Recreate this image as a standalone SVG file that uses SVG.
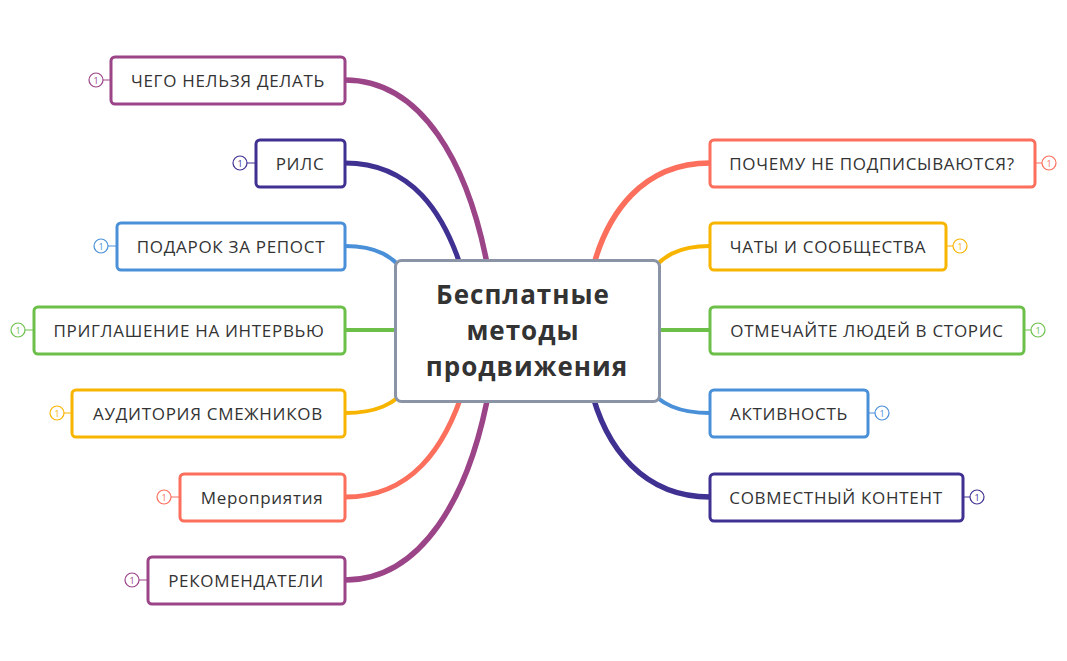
<svg xmlns="http://www.w3.org/2000/svg" width="1067" height="661" viewBox="0 0 1067 661">
<style>
.n{fill:#fff;stroke-width:3}
.t{font-family:"Open Sans",sans-serif;font-size:17px;letter-spacing:0.7px;fill:#333;text-anchor:middle;dominant-baseline:central}
.b{fill:#fff;stroke-width:1.2}
.bt{font-family:"Open Sans",sans-serif;font-size:9px;text-anchor:middle;dominant-baseline:central}
.c{fill:none;stroke-linecap:round}
</style>
<rect width="1067" height="661" fill="#fff"/>
<g id="connectors">
<path class="c" stroke="#9b4488" stroke-width="5.5" d="M345,80 C420,80 470,160 490,280"/>
<path class="c" stroke="#3f3192" stroke-width="5" d="M345,163 C410,163 445,210 465,280"/>
<path class="c" stroke="#4a90d9" stroke-width="4" d="M345,246 C375,246 395,255 410,280"/>
<path class="c" stroke="#6cc04a" stroke-width="4" d="M345,330 L410,330"/>
<path class="c" stroke="#f8b500" stroke-width="4" d="M345,413 C375,413 395,405 410,385"/>
<path class="c" stroke="#fb6f5c" stroke-width="5" d="M345,497 C410,497 445,450 465,385"/>
<path class="c" stroke="#9b4488" stroke-width="5.5" d="M345,580 C420,580 470,500 490,385"/>
<path class="c" stroke="#fb6f5c" stroke-width="5.5" d="M710,163 C645,163 605,210 590,280"/>
<path class="c" stroke="#f8b500" stroke-width="4" d="M710,246 C680,246 660,255 645,280"/>
<path class="c" stroke="#6cc04a" stroke-width="4" d="M710,330 L645,330"/>
<path class="c" stroke="#4a90d9" stroke-width="4" d="M710,413 C680,413 660,405 645,385"/>
<path class="c" stroke="#3f3192" stroke-width="5.5" d="M710,497 C645,497 605,450 590,385"/>
</g>
<g id="center">
<rect x="395.5" y="260.5" width="264" height="141" rx="6" fill="#fff" stroke="#8a94a6" stroke-width="3"/>
<text font-family="Open Sans,sans-serif" font-size="26" font-weight="bold" letter-spacing="1" fill="#333" text-anchor="middle"><tspan x="523" y="304">Бесплатные</tspan><tspan x="523" y="340">методы</tspan><tspan x="527" y="376">продвижения</tspan></text>
</g>
<g id="n1"><rect class="n" stroke="#9b4488" x="111" y="57" width="234" height="47" rx="4"/><text class="t" x="228" y="80">ЧЕГО НЕЛЬЗЯ ДЕЛАТЬ</text><line x1="103" y1="80" x2="111" y2="80" stroke="#9b4488"/><circle class="b" stroke="#9b4488" cx="96" cy="80" r="7"/><text class="bt" fill="#9b4488" x="96" y="80">1</text></g>
<g id="n2"><rect class="n" stroke="#3f3192" x="256" y="140" width="89" height="47" rx="4"/><text class="t" x="300" y="163">РИЛС</text><line x1="247" y1="163" x2="256" y2="163" stroke="#3f3192"/><circle class="b" stroke="#3f3192" cx="240" cy="163" r="7"/><text class="bt" fill="#3f3192" x="240" y="163">1</text></g>
<g id="n3"><rect class="n" stroke="#4a90d9" x="117" y="223" width="228" height="47" rx="4"/><text class="t" x="231" y="246">ПОДАРОК ЗА РЕПОСТ</text><line x1="108" y1="246" x2="117" y2="246" stroke="#4a90d9"/><circle class="b" stroke="#4a90d9" cx="101" cy="246" r="7"/><text class="bt" fill="#4a90d9" x="101" y="246">1</text></g>
<g id="n4"><rect class="n" stroke="#6cc04a" x="34" y="307" width="311" height="47" rx="4"/><text class="t" x="189" y="330">ПРИГЛАШЕНИЕ НА ИНТЕРВЬЮ</text><line x1="25" y1="330" x2="34" y2="330" stroke="#6cc04a"/><circle class="b" stroke="#6cc04a" cx="18" cy="330" r="7"/><text class="bt" fill="#6cc04a" x="18" y="330">1</text></g>
<g id="n5"><rect class="n" stroke="#f8b500" x="72" y="390" width="273" height="47" rx="4"/><text class="t" x="208" y="413">АУДИТОРИЯ СМЕЖНИКОВ</text><line x1="64" y1="413" x2="72" y2="413" stroke="#f8b500"/><circle class="b" stroke="#f8b500" cx="57" cy="413" r="7"/><text class="bt" fill="#f8b500" x="57" y="413">1</text></g>
<g id="n6"><rect class="n" stroke="#fb6f5c" x="180" y="474" width="165" height="47" rx="4"/><text class="t" x="262" y="497">Мероприятия</text><line x1="171" y1="497" x2="180" y2="497" stroke="#fb6f5c"/><circle class="b" stroke="#fb6f5c" cx="164" cy="497" r="7"/><text class="bt" fill="#fb6f5c" x="164" y="497">1</text></g>
<g id="n7"><rect class="n" stroke="#9b4488" x="148" y="557" width="197" height="47" rx="4"/><text class="t" x="246" y="580">РЕКОМЕНДАТЕЛИ</text><line x1="139" y1="580" x2="148" y2="580" stroke="#9b4488"/><circle class="b" stroke="#9b4488" cx="132" cy="580" r="7"/><text class="bt" fill="#9b4488" x="132" y="580">1</text></g>
<g id="r1"><rect class="n" stroke="#fb6f5c" x="710" y="140" width="325" height="47" rx="4"/><text class="t" x="872" y="163">ПОЧЕМУ НЕ ПОДПИСЫВАЮТСЯ?</text><line x1="1035" y1="163" x2="1042" y2="163" stroke="#fb6f5c"/><circle class="b" stroke="#fb6f5c" cx="1049" cy="163" r="7"/><text class="bt" fill="#fb6f5c" x="1049" y="163">1</text></g>
<g id="r2"><rect class="n" stroke="#f8b500" x="710" y="223" width="236" height="47" rx="4"/><text class="t" x="828" y="246">ЧАТЫ И СООБЩЕСТВА</text><line x1="946" y1="246" x2="953" y2="246" stroke="#f8b500"/><circle class="b" stroke="#f8b500" cx="960" cy="246" r="7"/><text class="bt" fill="#f8b500" x="960" y="246">1</text></g>
<g id="r3"><rect class="n" stroke="#6cc04a" x="710" y="307" width="314" height="47" rx="4"/><text class="t" x="867" y="330">ОТМЕЧАЙТЕ ЛЮДЕЙ В СТОРИС</text><line x1="1024" y1="330" x2="1031" y2="330" stroke="#6cc04a"/><circle class="b" stroke="#6cc04a" cx="1038" cy="330" r="7"/><text class="bt" fill="#6cc04a" x="1038" y="330">1</text></g>
<g id="r4"><rect class="n" stroke="#4a90d9" x="710" y="390" width="158" height="47" rx="4"/><text class="t" x="789" y="413">АКТИВНОСТЬ</text><line x1="868" y1="413" x2="875" y2="413" stroke="#4a90d9"/><circle class="b" stroke="#4a90d9" cx="882" cy="413" r="7"/><text class="bt" fill="#4a90d9" x="882" y="413">1</text></g>
<g id="r5"><rect class="n" stroke="#3f3192" x="710" y="474" width="253" height="47" rx="4"/><text class="t" x="836" y="497">СОВМЕСТНЫЙ КОНТЕНТ</text><line x1="963" y1="497" x2="970" y2="497" stroke="#3f3192"/><circle class="b" stroke="#3f3192" cx="977" cy="497" r="7"/><text class="bt" fill="#3f3192" x="977" y="497">1</text></g>
</svg>
